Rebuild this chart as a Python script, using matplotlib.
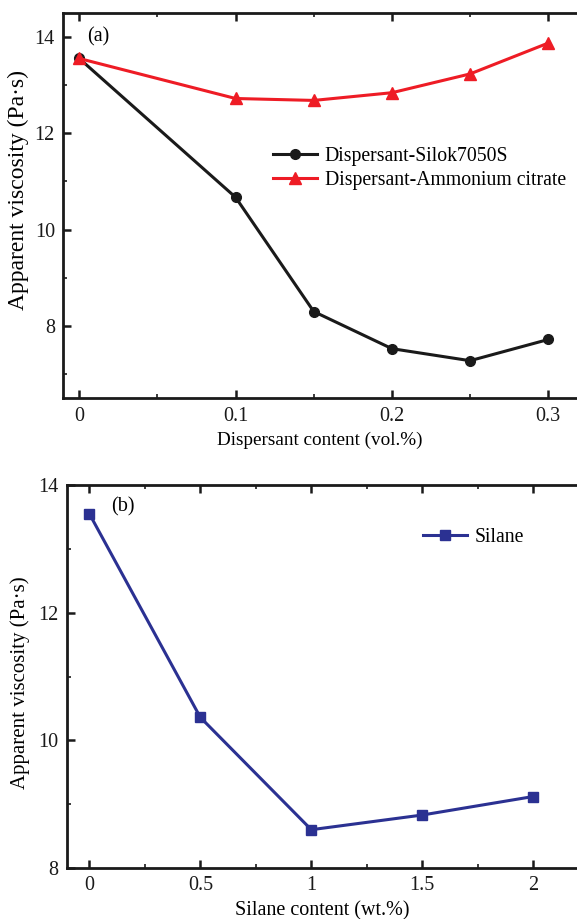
import matplotlib
matplotlib.use("Agg")
import matplotlib.pyplot as plt
from matplotlib.ticker import MultipleLocator

plt.rcParams['font.family'] = ['Liberation Serif', 'DejaVu Serif']

# Panel (a)
disp_x = [0, 0.1, 0.15, 0.2, 0.25, 0.3]
silok = [13.55, 10.67, 8.30, 7.53, 7.28, 7.72]
citrate = [13.55, 12.72, 12.68, 12.84, 13.23, 13.87]
disp_ticks = [0, 0.1, 0.2, 0.3]

# Panel (b)
silane_x = [0, 0.5, 1, 1.5, 2]
silane = [13.55, 10.36, 8.60, 8.83, 9.12]
silane_ticks = [0, 0.5, 1, 1.5, 2]

W, H = 577, 919
fig = plt.figure(figsize=(W/100, H/100), dpi=100)

def style(ax, minor_x):
    for s in ['left', 'bottom', 'top']:
        ax.spines[s].set_linewidth(2.0)
        ax.spines[s].set_color('#1a1a1a')
    ax.spines['right'].set_visible(False)
    ax.xaxis.set_minor_locator(MultipleLocator(minor_x))
    ax.yaxis.set_minor_locator(MultipleLocator(1))
    ax.tick_params(which='major', direction='in', length=6, width=1.8, top=True,
                   labelsize=14.5, colors='#1a1a1a', pad=6)
    ax.tick_params(which='minor', direction='in', length=3, width=1.2, top=True,
                   colors='#1a1a1a')

# top axes
L1, T1, B1 = 63.3, 12.7, 398.3
ax1 = fig.add_axes([L1/W, 1-B1/H, (W-L1)/W, (B1-T1)/H])
ax1.plot(disp_x, silok, color='#1a1a1a', lw=2.2, marker='o', ms=7,
         label='Dispersant-Silok7050S')
ax1.plot(disp_x, citrate, color='#ee1c25', lw=2.2, marker='^', ms=8,
         label='Dispersant-Ammonium citrate')
ax1.set_xlim(-0.0102, 0.3184)
ax1.set_ylim(6.5, 14.5)
ax1.set_xticks(disp_ticks)
ax1.set_xticklabels(['0', '0.1', '0.2', '0.3'])
ax1.set_yticks([8, 10, 12, 14])
style(ax1, 0.05)
ax1.set_xlabel('Dispersant content (vol.%)', fontsize=13.8, labelpad=4)
ax1.set_ylabel('Apparent viscosity (Pa·s)', fontsize=17)
ax1.yaxis.set_label_coords(-0.066, 0.54)
ax1.text(0.046, 0.937, '(a)', transform=ax1.transAxes, fontsize=14.5,
         ha='left', va='center')
ax1.legend(loc='center left', bbox_to_anchor=(0.3926, 0.596), frameon=False,
           fontsize=14.2, handlelength=2.23, handletextpad=0.4, labelspacing=0.25,
           borderaxespad=0)

# bottom axes
L2, T2, B2 = 66.7, 485, 868
ax2 = fig.add_axes([L2/W, 1-B2/H, (W-L2)/W, (B2-T2)/H])
ax2.plot(silane_x, silane, color='#2b3192', lw=2.2, marker='s', ms=7,
         label='Silane')
ax2.set_xlim(-0.102, 2.197)
ax2.set_ylim(8, 14)
ax2.set_xticks(silane_ticks)
ax2.set_xticklabels(['0', '0.5', '1', '1.5', '2'])
ax2.set_yticks([8, 10, 12, 14])
style(ax2, 0.25)
ax2.set_xlabel('Silane content (wt.%)', fontsize=14.5, labelpad=4)
ax2.set_ylabel('Apparent viscosity (Pa·s)', fontsize=15)
ax2.yaxis.set_label_coords(-0.072, 0.484)
ax2.text(0.087, 0.9426, '(b)', transform=ax2.transAxes, fontsize=14.5,
         ha='left', va='center')
ax2.legend(loc='center left', bbox_to_anchor=(0.6826, 0.864), frameon=False,
           fontsize=14.2, handlelength=2.23, handletextpad=0.4, borderaxespad=0)

fig.savefig('out.png', dpi=100)
